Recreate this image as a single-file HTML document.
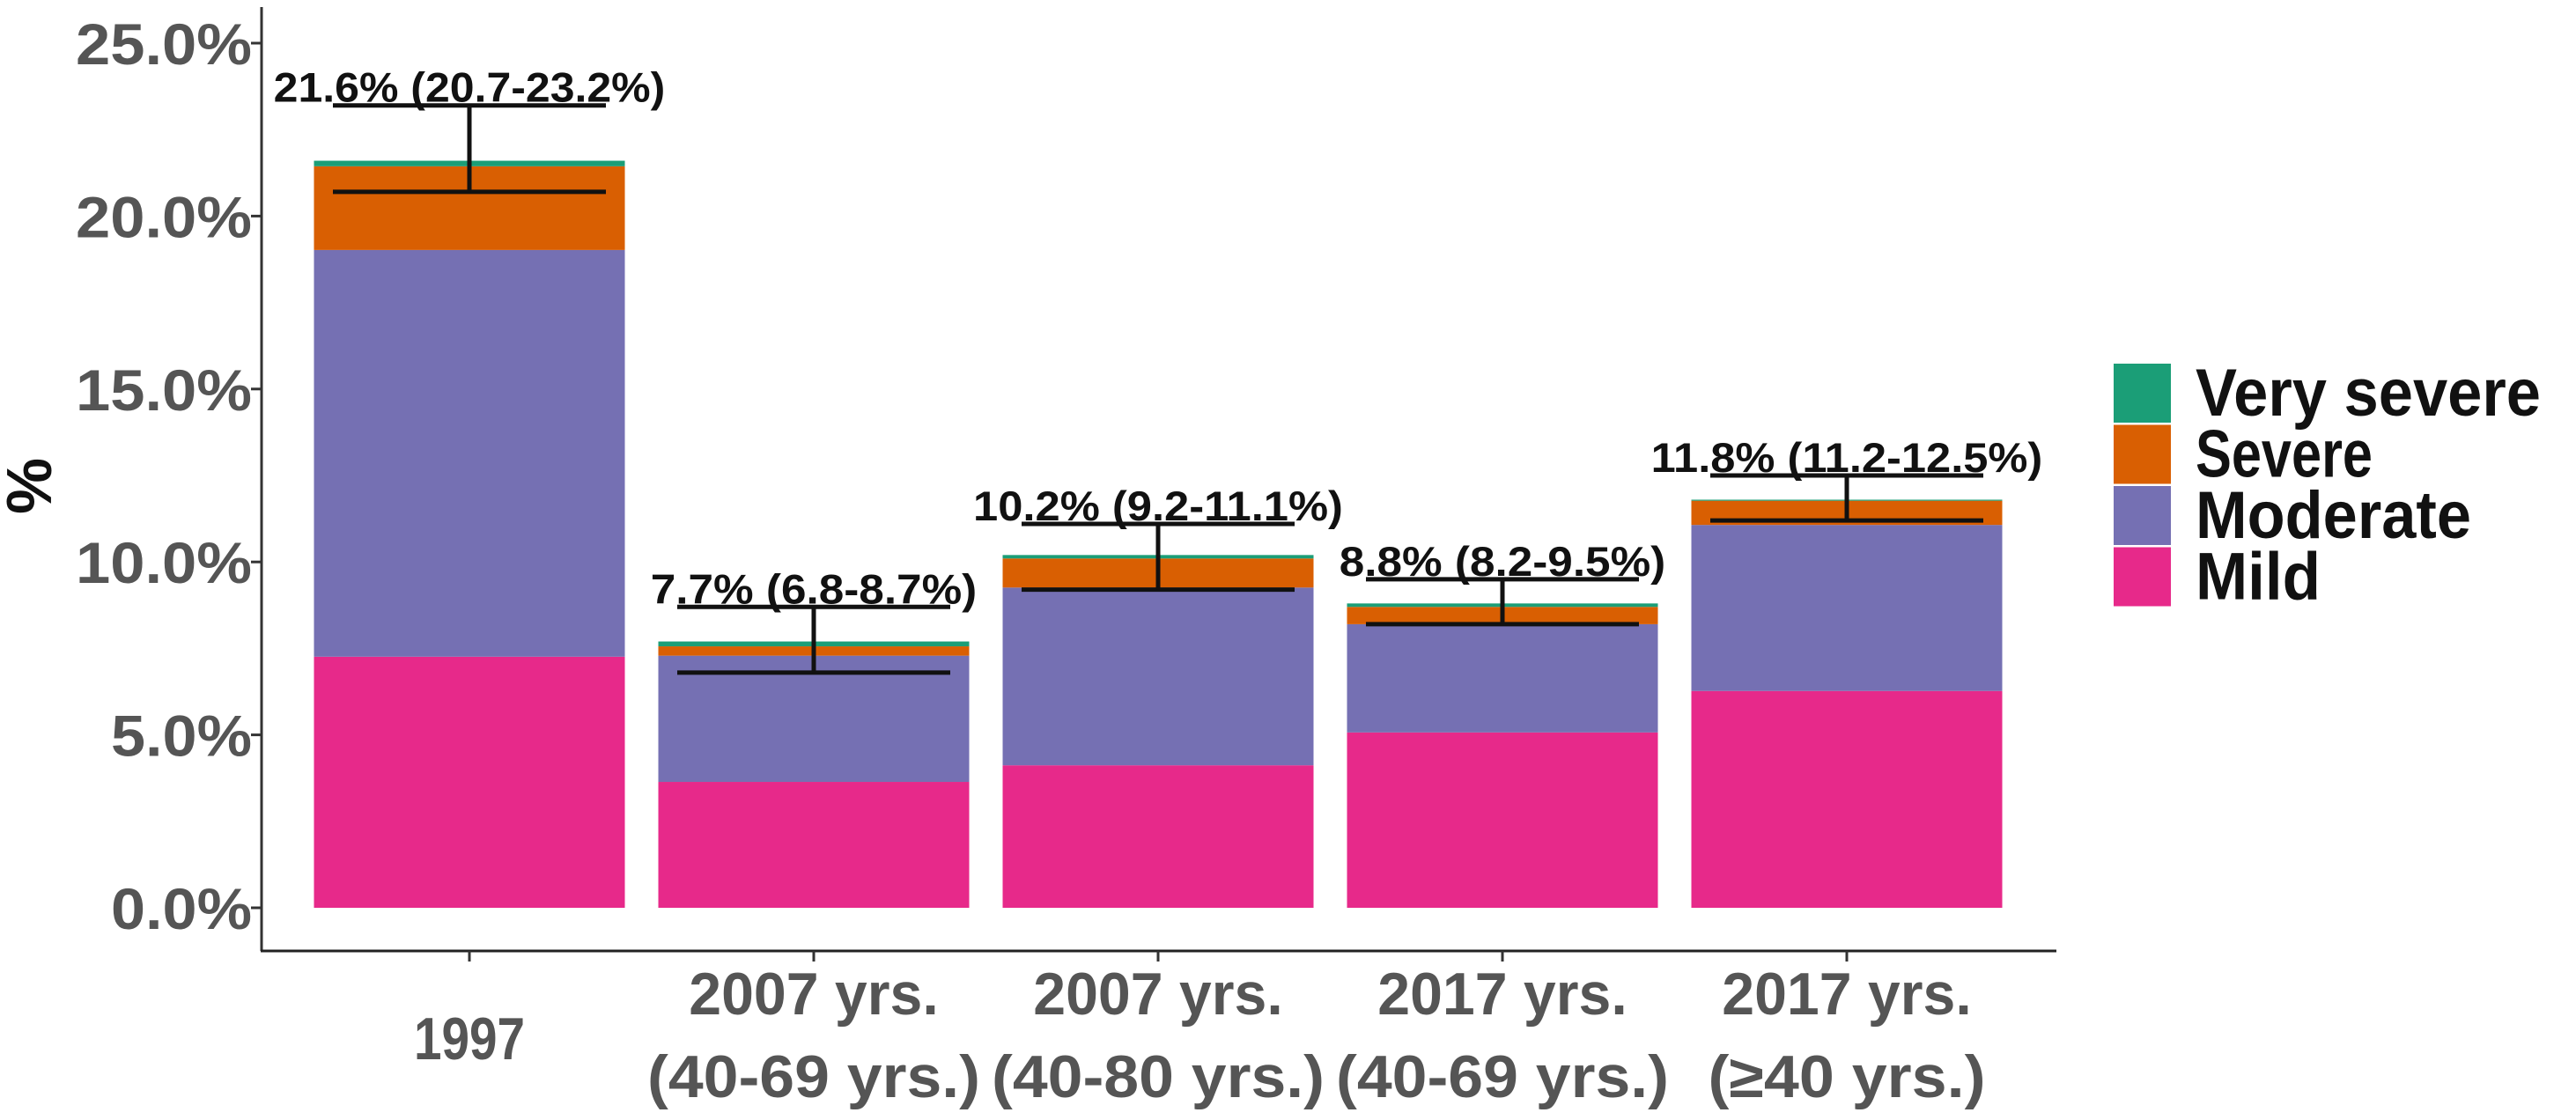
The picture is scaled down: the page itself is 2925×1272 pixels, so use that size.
<!DOCTYPE html>
<html><head><meta charset="utf-8"><style>
html,body{margin:0;padding:0;background:#fff;}
svg{display:block;font-family:"Liberation Sans",Arial,sans-serif;font-weight:bold;}
</style></head><body>
<svg id="chart" width="2925" height="1272" viewBox="0 0 2925 1272" xmlns="http://www.w3.org/2000/svg"></svg>
<script>
const categories = [["1997"],["2007 yrs.","(40-69 yrs.)"],["2007 yrs.","(40-80 yrs.)"],["2017 yrs.","(40-69 yrs.)"],["2017 yrs.","(\u226540 yrs.)"]];
const mild = [7.26, 3.64, 4.12, 5.07, 6.27];
const moderate = [11.76, 3.65, 5.14, 3.13, 4.8];
const severe = [2.42, 0.27, 0.84, 0.5, 0.7];
const verySevere = [0.16, 0.14, 0.1, 0.1, 0.03];
const estimates = [21.6, 7.7, 10.2, 8.8, 11.8];
const ciLow = [20.7, 6.8, 9.2, 8.2, 11.2];
const ciHigh = [23.2, 8.7, 11.1, 9.5, 12.5];
const yTicks = [0, 5, 10, 15, 20, 25];
const seriesNames = ["Very severe","Severe","Moderate","Mild"];

const NS="http://www.w3.org/2000/svg";
const svg=document.getElementById('chart');
function mk(tag,attrs,parent){const e=document.createElementNS(NS,tag);for(const k in attrs)e.setAttribute(k,attrs[k]);(parent||svg).appendChild(e);return e;}
const y0=1031, perPct=39.28;
function y(v){return y0-v*perPct;}
const x0=533, step=391, barW=353;
function x(i){return x0+i*step;}
const colors={mild:"#e7298a",moderate:"#7570b3",severe:"#d95f02",vs:"#1b9e77"};

let e=mk('line',{x1:297,y1:8,x2:297,y2:1080,stroke:'#333','stroke-width':3});


e=mk('line',{x1:296,y1:1080,x2:2335,y2:1080,stroke:'#222','stroke-width':3});



yTicks.forEach(t=>{
  const tk=mk('line',{x1:285,y1:y(t),x2:297,y2:y(t),stroke:'#333','stroke-width':3});
  
  
  const s=t.toFixed(1)+'%';
  const tl=mk('text',{x:286,y:y(t)+24,'text-anchor':'end','font-size':66,fill:'#555',textLength:s.length*40,lengthAdjust:'spacingAndGlyphs'});
  tl.textContent=s;
  
  
});
e=mk('text',{x:0,y:0,'font-size':72,fill:'#111','text-anchor':'middle',transform:'translate(58,552) rotate(-90)'});
e.textContent='%';



categories.forEach((lines,i)=>{
  const cx=x(i);
  const tk=mk('line',{x1:cx,y1:1080,x2:cx,y2:1092,stroke:'#333','stroke-width':3});
  
  
  const base = lines.length===1?[1203]:[1152,1246];
  lines.forEach((ln,j)=>{
    const t=mk('text',{x:cx,y:base[j],'text-anchor':'middle','font-size':68,fill:'#555',textLength:ln.length*31.5,lengthAdjust:'spacingAndGlyphs'});
    t.textContent=ln;
    
    
  });
  const segs=[[mild[i],colors.mild,'bar-mild'],[moderate[i],colors.moderate,'bar-moderate'],[severe[i],colors.severe,'bar-severe'],[verySevere[i],colors.vs,'bar-very-severe']];
  let acc=0;
  segs.forEach(s=>{
    const r=mk('rect',{x:cx-barW/2,y:y(acc+s[0]),width:barW,height:s[0]*perPct,fill:s[1]});
    
    
    acc+=s[0];
  });
  const g=mk('g',{stroke:'#111','stroke-width':5});
  
  
  mk('line',{x1:cx-155,y1:y(ciLow[i]),x2:cx+155,y2:y(ciLow[i])},g);
  mk('line',{x1:cx-155,y1:y(ciHigh[i]),x2:cx+155,y2:y(ciHigh[i])},g);
  mk('line',{x1:cx,y1:y(ciLow[i]),x2:cx,y2:y(ciHigh[i])},g);
  const s=estimates[i].toFixed(1)+'% ('+ciLow[i].toFixed(1)+'-'+ciHigh[i].toFixed(1)+'%)';
  const lt=mk('text',{x:cx,y:y(ciHigh[i])-4,'text-anchor':'middle','font-size':47,fill:'#111',textLength:s.length*24.7,lengthAdjust:'spacingAndGlyphs'});
  lt.textContent=s;
  
  
});

const legCols=[colors.vs,colors.severe,colors.moderate,colors.mild];
const legW=[392,201,313,142];
seriesNames.forEach((n,i)=>{
  const top=413+i*69.5;
  const r=mk('rect',{x:2400,y:top,width:65,height:67,fill:legCols[i]});
  
  
  const t=mk('text',{x:2493,y:top+59,'font-size':76,fill:'#111',textLength:legW[i],lengthAdjust:'spacingAndGlyphs'});
  t.textContent=n;
  
  
});
</script>
</body></html>
